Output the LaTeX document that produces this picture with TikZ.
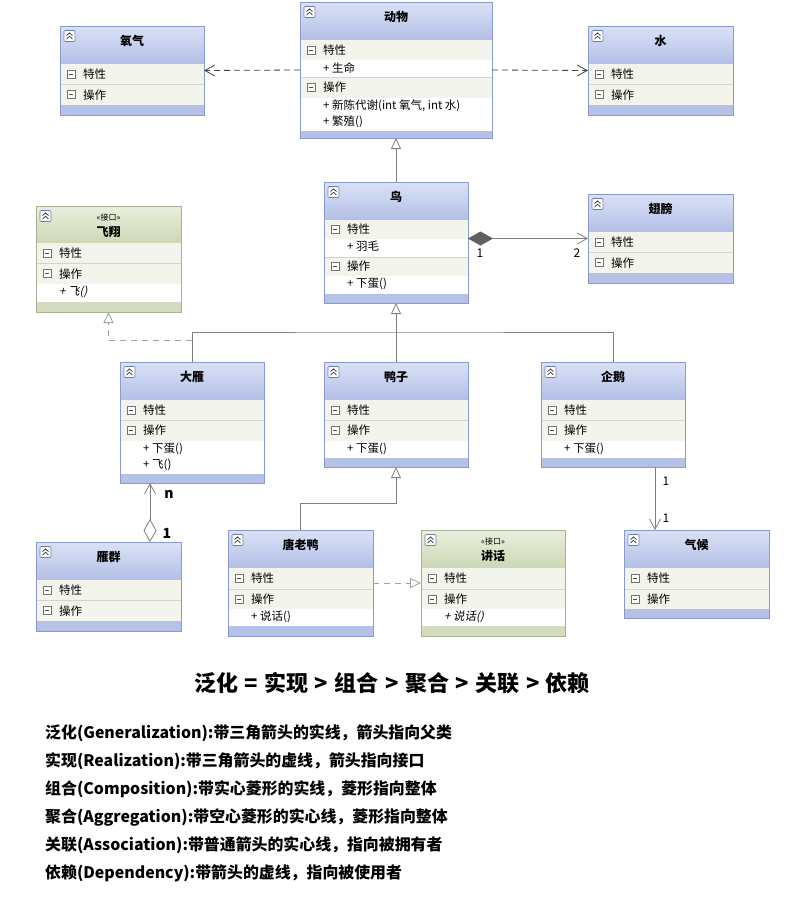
\documentclass[tikz,border=0pt]{standalone}
\usepackage{fontspec}
\setmainfont{Noto Sans CJK SC}
\newfontfamily\itfont{Noto Sans CJK SC}[FakeSlant=0.2]
\usetikzlibrary{arrows.meta}
\definecolor{cbborder}{HTML}{8A9ACB}
\definecolor{cbband}{HTML}{B5C1E6}
\definecolor{cbtop}{HTML}{DAE2F6}
\definecolor{cbbot}{HTML}{B3BFE6}
\definecolor{cgborder}{HTML}{A8B191}
\definecolor{cgband}{HTML}{D3DCC1}
\definecolor{cgtop}{HTML}{EAEFDE}
\definecolor{cgbot}{HTML}{CCD7B5}
\definecolor{secfill}{HTML}{F3F5EC}
\definecolor{sepline}{HTML}{D2D4D0}
\definecolor{iconbd}{HTML}{6E7FA8}
\definecolor{genline}{HTML}{808080}
\definecolor{depline}{HTML}{404040}
\definecolor{realline}{HTML}{A0A0A0}
\definecolor{diafill}{HTML}{606060}
\tikzset{
  boxnode/.style={rectangle, inner sep=0pt, outer sep=0pt, anchor=north west, draw=none},
  textfont/.style={font=\fontsize{11.5}{16}\selectfont, inner sep=0pt},
  titlefont/.style={font=\bfseries\fontsize{12}{12}\selectfont, inner sep=0pt},
  stereofont/.style={font=\fontsize{8}{8}\selectfont, inner sep=0pt},
  iconstyle/.style={draw=iconbd, fill=white, line width=0.6pt, rounded corners=1pt},
  chev/.style={draw=black!80, line width=0.7pt},
  secicon/.style={draw=black!55, fill=white, line width=0.6pt},
  secminus/.style={draw=black!70, line width=0.8pt},
  sepl/.style={draw=sepline, line width=0.6pt},
  gen/.style={draw=genline, line width=0.8pt, -{Triangle[open,length=11pt,width=10pt,fill=white,line width=0.8pt]}},
  plainl/.style={draw=genline, line width=0.8pt},
  dep/.style={draw=depline, line width=0.8pt, dash pattern=on 6pt off 4pt, -{Straight Barb[length=10pt,width=11pt,line width=0.8pt]}},
  real/.style={draw=realline, line width=0.9pt, dash pattern=on 6pt off 5pt, -{Triangle[open,length=11pt,width=10pt,fill=white,line width=0.8pt]}},
  comp/.style={draw=genline, line width=0.8pt, {Diamond[length=25pt,width=14pt,fill=diafill,color=diafill]}-{Straight Barb[length=10pt,width=11pt,line width=0.8pt]}},
  agg/.style={draw=genline, line width=0.8pt, {Diamond[open,length=23pt,width=13pt,fill=white,line width=0.8pt]}-{Straight Barb[length=10pt,width=11pt,line width=0.8pt]}},
  assoc/.style={draw=genline, line width=0.8pt, -{Straight Barb[length=10pt,width=11pt,line width=0.8pt]}},
  mult/.style={font=\fontsize{12}{12}\selectfont, inner sep=0pt},
  multb/.style={font=\bfseries\fontsize{14}{14}\selectfont, inner sep=0pt},
  headline/.style={font=\bfseries\fontsize{22}{22}\selectfont, inner sep=0pt},
  legend/.style={font=\bfseries\fontsize{15.9}{16}\selectfont, inner sep=0pt, anchor=west},
}
\newcommand\UBox[6]{%
  \ifx b#1\relax
    \gdef\ubord{cbborder}\gdef\uband{cbband}\gdef\utop{cbtop}\gdef\ubot{cbbot}%
  \else
    \gdef\ubord{cgborder}\gdef\uband{cgband}\gdef\utop{cgtop}\gdef\ubot{cgbot}%
  \fi
  \node[boxnode, fill=\uband, minimum width=#5pt, minimum height=#6pt] (#2) at (#3,-#4) {};
  \xdef\ux{#3}\xdef\uy{#4}\xdef\uw{#5}\xdef\uname{#2}%
}
\newcommand\UAdv[1]{\pgfmathparse{\uy+#1}\xdef\uy{\pgfmathresult}}
\newcommand\UIcon{%
  \draw[iconstyle] (\ux+4,-\uy-4.5) rectangle (\ux+15,-\uy-15.5);
  \draw[chev] (\ux+6.5,-\uy-9.6) -- (\ux+9.5,-\uy-6.9) -- (\ux+12.5,-\uy-9.6);
  \draw[chev] (\ux+6.5,-\uy-13) -- (\ux+9.5,-\uy-10.3) -- (\ux+12.5,-\uy-13);
}
\newcommand\UHead[2][38]{%
  \shade[top color=\utop, bottom color=\ubot] (\ux,-\uy) rectangle (\ux+\uw,-\uy-#1);
  \UIcon
  \node[titlefont] at (\ux+\uw/2,-\uy-15) {#2};
  \UAdv{#1}}
\newcommand\UHeadI[3][37]{%
  \shade[top color=\utop, bottom color=\ubot] (\ux,-\uy) rectangle (\ux+\uw,-\uy-#1);
  \UIcon
  \node[stereofont] at (\ux+\uw/2,-\uy-11) {«#2»};
  \node[titlefont] at (\ux+\uw/2,-\uy-26) {#3};
  \UAdv{#1}}
\newcommand\USec[2][20.5]{%
  \fill[secfill] (\ux,-\uy) rectangle (\ux+\uw,-\uy-#1);
  \draw[secicon] (\ux+7,-\uy-#1/2+4) rectangle (\ux+15,-\uy-#1/2-4);
  \draw[secminus] (\ux+9,-\uy-#1/2) -- (\ux+13,-\uy-#1/2);
  \node[textfont, anchor=west] at (\ux+23,-\uy-#1/2) {#2};
  \UAdv{#1}}
\newcommand\USecL[2][20.5]{%
  \xdef\uyold{\uy}\USec[#1]{#2}%
  \draw[sepl] (\ux,-\uyold) -- (\ux+\uw,-\uyold);}
\newcommand\UMem[2]{%
  \fill[white] (\ux,-\uy) rectangle (\ux+\uw,-\uy-#1);
  \node[textfont, anchor=north west, align=left] at (\ux+23,-\uy-2) {#2};
  \UAdv{#1}}
\newcommand\UEnd{\draw[draw=\ubord, line width=0.8pt] (\uname.north west) rectangle (\uname.south east);}
\newcommand\hsp{\hspace{6.5pt}}
\begin{document}
\begin{tikzpicture}[x=1pt,y=1pt]
\useasboundingbox (0,0) rectangle (794,-903);
\fill[white] (0,0) rectangle (794,-903);

% 氧气
\UBox{b}{oxygen}{60}{26}{144}{89}
\UHead{氧气}\USec{特性}\USecL{操作}\UEnd
% 动物
\UBox{b}{animal}{300}{2}{192}{136}
\UHead{动物}\USec[20]{特性}\UMem{17.5}{+ 生命}\USecL[20]{操作}\UMem{33}{+ 新陈代谢(int 氧气, int 水)\\+ 繁殖()}\UEnd
% 水
\UBox{b}{water}{588}{26}{145}{89}
\UHead{水}\USec{特性}\USecL{操作}\UEnd
% 飞翔
\UBox{g}{fly}{36}{206}{145}{106}
\UHeadI{接口}{飞翔}\USec{特性}\USecL{操作}\UMem{18}{\itfont + 飞()}\UEnd
% 鸟
\UBox{b}{bird}{324}{182}{144}{121}
\UHead{鸟}\USec[19]{特性}\UMem{18}{+ 羽毛}\USecL[19]{操作}\UMem{18}{+ 下蛋()}\UEnd
% 翅膀
\UBox{b}{wing}{588}{194}{145}{89}
\UHead{翅膀}\USec{特性}\USecL{操作}\UEnd
% 大雁
\UBox{b}{goose}{120}{362}{144}{121}
\UHead{大雁}\USec[20]{特性}\USecL[21]{操作}\UMem{33}{+ 下蛋()\\+ 飞()}\UEnd
% 鸭子
\UBox{b}{duck}{324}{362}{144}{105}
\UHead{鸭子}\USec[20]{特性}\USecL[21]{操作}\UMem{17}{+ 下蛋()}\UEnd
% 企鹅
\UBox{b}{penguin}{541}{362}{144}{105}
\UHead{企鹅}\USec[20]{特性}\USecL[21]{操作}\UMem{17}{+ 下蛋()}\UEnd
% 雁群
\UBox{b}{flock}{36}{542}{145}{89}
\UHead{雁群}\USec{特性}\USecL{操作}\UEnd
% 唐老鸭
\UBox{b}{donald}{228}{530}{145}{106}
\UHead{唐老鸭}\USec[21]{特性}\USecL[20]{操作}\UMem{17}{+ 说话()}\UEnd
% 讲话
\UBox{g}{speak}{421}{530}{144}{106}
\UHeadI[38]{接口}{讲话}\USec[21]{特性}\USecL[20]{操作}\UMem{17}{\itfont + 说话()}\UEnd
% 气候
\UBox{b}{climate}{624}{530}{145}{88}
\UHead{气候}\USec[21]{特性}\USecL[20]{操作}\UEnd

% connectors
\draw[dep] (animal.west) -- (oxygen.east);
\draw[dep] (animal.east) -- (water.west);
\draw[gen] (bird.north) -- (animal.south);
\draw[comp] (bird.east |- wing.west) -- (wing.west);
\coordinate (bus) at (396,-332);
\draw[plainl] (goose.north) |- (bus) -| (penguin.north);
\draw[gen] (duck.north) -- (bird.south);
\draw[real] ([yshift=22pt]goose.north) -| (fly.south);
\coordinate (aggx) at (150,0);
\draw[agg] (aggx |- flock.north) -- (aggx |- goose.south);
\draw[gen] (donald.north) -- ++(0,27) -| (duck.south);
\draw[real] (donald.east) -- (speak.west);
\coordinate (asx) at (655,0);
\draw[assoc] (asx |- penguin.south) -- (asx |- climate.north);

% multiplicities
\node[mult] (m1) at (480,-253) {1};
\node[mult] (m2) at (577,-253) {2};
\node[mult] (m3) at (666,-481) {1};
\node[mult] (m4) at (666,-518) {1};
\node[multb] (mn) at (169,-494) {n};
\node[multb] (m5) at (167,-533) {1};

% text
\node[headline] (summary) at (392,-683) {泛化{\hsp}={\hsp}实现{\hsp}>{\hsp}组合{\hsp}>{\hsp}聚合{\hsp}>{\hsp}关联{\hsp}>{\hsp}依赖};
\node[legend] (l1) at (45,-733) {泛化(Generalization):带三角箭头的实线，箭头指向父类};
\node[legend] (l2) at (45,-761) {实现(Realization):带三角箭头的虚线，箭头指向接口};
\node[legend] (l3) at (45,-789) {组合(Composition):带实心菱形的实线，菱形指向整体};
\node[legend] (l4) at (45,-817) {聚合(Aggregation):带空心菱形的实心线，菱形指向整体};
\node[legend] (l5) at (45,-845) {关联(Association):带普通箭头的实心线，指向被拥有者};
\node[legend] (l6) at (45,-873) {依赖(Dependency):带箭头的虚线，指向被使用者};
\end{tikzpicture}
\end{document}
